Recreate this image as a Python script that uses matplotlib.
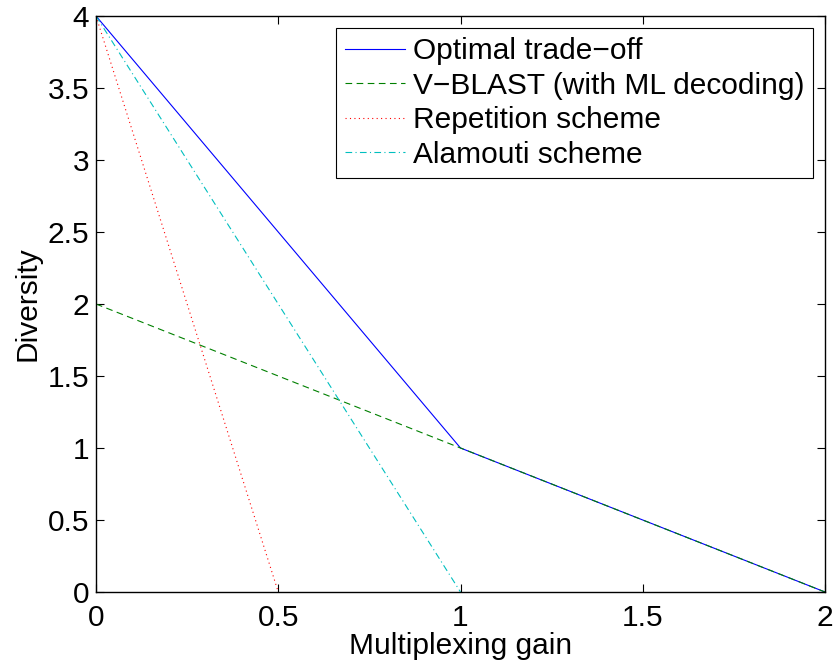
import matplotlib
matplotlib.use("Agg")
import matplotlib.pyplot as plt

plt.rcParams['font.family'] = ['Liberation Sans', 'DejaVu Sans']

opt_x = [0, 1, 2]
opt_y = [4, 1, 0]
vblast_x = [0, 1, 2]
vblast_y = [2, 1, 0]
rep_x = [0, 0.5]
rep_y = [4, 0]
ala_x = [0, 1]
ala_y = [4, 0]
labels = ["Optimal trade\u2212off", "V\u2212BLAST (with ML decoding)",
          "Repetition scheme", "Alamouti scheme"]
xticks = [0, 0.5, 1, 1.5, 2]
yticks = [0, 0.5, 1, 1.5, 2, 2.5, 3, 3.5, 4]

fig = plt.figure(figsize=(8.36, 6.62), dpi=100)
ax = fig.add_axes([96/836, 70/662, (825-96)/836, (592-16)/662])
fs = 21.5
ax.plot(opt_x, opt_y, color=(0, 0, 1), lw=0.8, linestyle='-', label=labels[0])
ax.plot(vblast_x, vblast_y, color=(0, 0.5, 0), lw=0.8, linestyle=(0, (6, 4)), label=labels[1])
ax.plot(rep_x, rep_y, color=(1, 0, 0), lw=0.8, linestyle=(0, (1, 3)), label=labels[2])
ax.plot(ala_x, ala_y, color=(0, 0.75, 0.75), lw=0.8, linestyle=(0, (6, 3, 1, 3)), label=labels[3])
ax.set_xlim(0, 2)
ax.set_ylim(0, 4)
ax.set_xticks(xticks)
ax.set_xticklabels([f"{t:g}" for t in xticks])
ax.set_yticks(yticks)
ax.set_yticklabels([f"{t:g}" for t in yticks])
ax.tick_params(direction='in', top=True, right=True, length=6, width=0.8, labelsize=fs)
ax.tick_params(axis='x', pad=9)
ax.tick_params(axis='y', pad=5)
for s in ax.spines.values():
    s.set_linewidth(1.0)
ax.set_xlabel("Multiplexing gain", fontsize=fs, labelpad=0)
ax.set_ylabel("Diversity", fontsize=fs, labelpad=4)
leg = ax.legend(loc='upper right', fontsize=fs, frameon=True, fancybox=False,
                edgecolor='black', framealpha=1, borderpad=0.3, labelspacing=0.22,
                handlelength=2.0, handletextpad=0.25, borderaxespad=0.0,
                bbox_to_anchor=(813/836, 1 - 28/662), bbox_transform=fig.transFigure)
leg.get_frame().set_linewidth(0.8)
fig.savefig("out.png", dpi=100)
